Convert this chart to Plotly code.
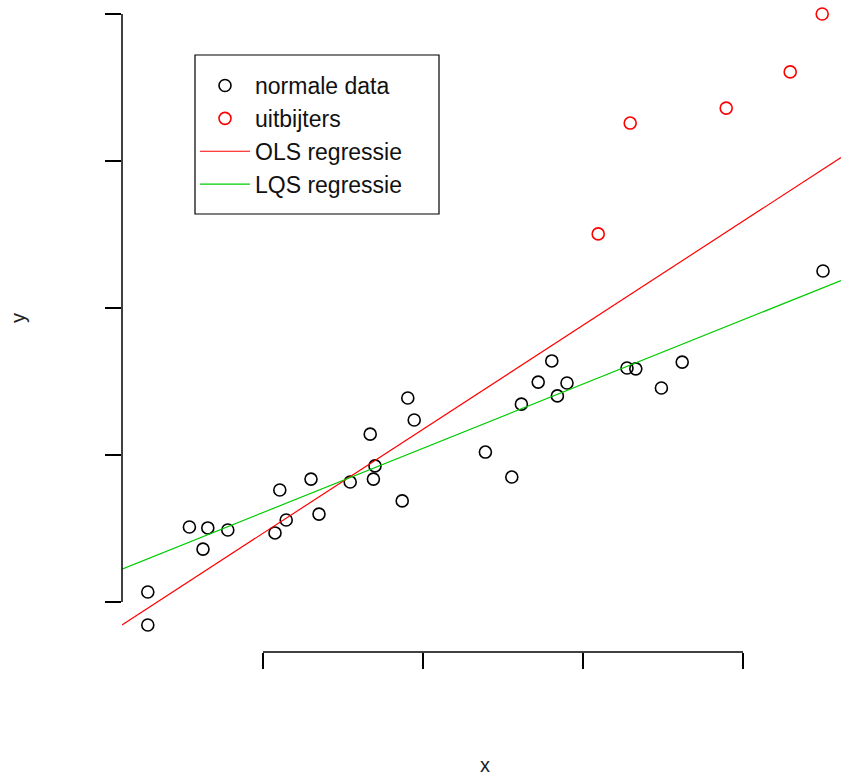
import plotly.graph_objects as go
import numpy as np

# normal data
x_norm = [0.56, 0.56, 1.08, 1.25, 1.31, 1.56, 2.15, 2.21, 2.29, 2.60, 2.70, 3.09, 3.34, 3.38, 3.40,
          3.74, 3.81, 3.89, 4.78, 5.11, 5.23, 5.44, 5.61, 5.68, 5.80, 6.55, 6.66, 6.98, 7.24, 9.00]
y_norm = [0.34, -0.78, 2.55, 1.80, 2.52, 2.45, 2.35, 3.81, 2.79, 4.18, 2.99, 4.08, 5.71, 4.18, 4.63,
          3.44, 6.94, 6.19, 5.10, 4.25, 6.73, 7.48, 8.20, 7.01, 7.45, 7.96, 7.93, 7.28, 8.16, 11.26]
# outliers
x_out = [6.19, 6.59, 7.79, 8.59, 8.99]
y_out = [12.52, 16.29, 16.80, 18.03, 20.00]

# regression coefficients (intercept, slope)
ols_coef = [-1.20, 1.769]
lqs_coef = [0.86, 1.092]

x_ticks = [2, 4, 6, 8]
y_ticks = [0, 5, 10, 15, 20]
x_range = [0.2375, 9.225]
y_range = [-1.70, 20.476]

font_family = "Liberation Sans, Arial, Helvetica, sans-serif"
PW, PH = 719, 652  # plot area size in px

fig = go.Figure()
fig.add_trace(go.Scatter(x=x_norm, y=y_norm, mode="markers", name="normale data",
                         marker=dict(symbol="circle-open", size=12, color="black", line=dict(width=1.6))))
fig.add_trace(go.Scatter(x=x_out, y=y_out, mode="markers", name="uitbijters",
                         marker=dict(symbol="circle-open", size=12, color="red", line=dict(width=1.6))))
xl = np.array(x_range)
fig.add_trace(go.Scatter(x=xl, y=ols_coef[0] + ols_coef[1] * xl, mode="lines", name="OLS regressie",
                         line=dict(color="red", width=1.2)))
fig.add_trace(go.Scatter(x=xl, y=lqs_coef[0] + lqs_coef[1] * xl, mode="lines", name="LQS regressie",
                         line=dict(color="#00cc00", width=1.2)))

fig.update_xaxes(range=x_range, tickvals=x_ticks, showticklabels=False, ticks="outside",
                 ticklen=16, tickwidth=1.5, tickcolor="black", showgrid=False, zeroline=False, showline=False)
fig.update_yaxes(range=y_range, tickvals=y_ticks, showticklabels=False, ticks="outside",
                 ticklen=16, tickwidth=1.5, tickcolor="black", showgrid=False, zeroline=False, showline=False)

fig.add_shape(type="line", xref="x", yref="paper", x0=x_ticks[0], x1=x_ticks[-1], y0=0, y1=0,
              line=dict(color="black", width=1.5))
fig.add_shape(type="line", xref="paper", yref="y", x0=0, x1=0, y0=y_ticks[0], y1=y_ticks[-1],
              line=dict(color="black", width=1.5))
# legend box
fig.add_shape(type="rect", xref="paper", yref="paper", layer="above",
              x0=(195 - 122) / PW, x1=(439 - 122) / PW, y0=(652 - 214) / PH, y1=(652 - 55) / PH,
              fillcolor="white", line=dict(color="black", width=1.2))

fig.add_annotation(text="x", xref="paper", yref="paper", x=(485 - 122) / PW, y=0, yshift=-113,
                   yanchor="middle", showarrow=False, font=dict(size=20, color="#222", family=font_family))
fig.add_annotation(text="y", xref="paper", yref="paper", x=0, xshift=-104, xanchor="center",
                   y=(652 - 318) / PH, textangle=-90, showarrow=False,
                   font=dict(size=20, color="#222", family=font_family))

fig.update_layout(
    width=841, height=778,
    margin=dict(l=122, r=0, t=0, b=126),
    plot_bgcolor="white", paper_bgcolor="white",
    font=dict(family=font_family, color="black"),
    legend=dict(x=(195 - 122) / PW, y=(652 - 64) / PH, xanchor="left", yanchor="top",
                bgcolor="rgba(0,0,0,0)", borderwidth=0,
                font=dict(size=23, family=font_family, color="#111"),
                itemwidth=50, tracegroupgap=0),
)

fig.write_html("out.html")
